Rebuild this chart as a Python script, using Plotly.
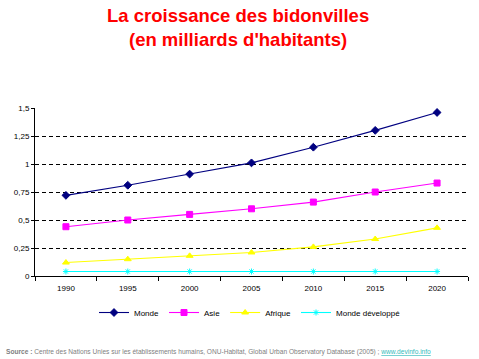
import plotly.graph_objects as go

years = ["1990", "1995", "2000", "2005", "2010", "2015", "2020"]
monde = [0.72, 0.81, 0.91, 1.01, 1.15, 1.30, 1.46]
asie = [0.44, 0.50, 0.55, 0.60, 0.66, 0.75, 0.83]
afrique = [0.12, 0.15, 0.18, 0.21, 0.26, 0.33, 0.43]
monde_dev = [0.04, 0.04, 0.04, 0.04, 0.04, 0.04, 0.04]
y_ticks = [0, 0.25, 0.5, 0.75, 1, 1.25, 1.5]
y_labels = ["0", "0,25", "0,5", "0,75", "1", "1,25", "1,5"]

fig = go.Figure()
series = [
    ("Monde", monde, "#000080", "diamond", 6),
    ("Asie", asie, "#FF00FF", "square", 6),
    ("Afrique", afrique, "#FFFF00", "triangle-up", 6),
    ("Monde développé", monde_dev, "#00FFFF", "asterisk-open", 5),
]
for name, vals, col, sym, sz in series:
    fig.add_trace(go.Scatter(
        x=years, y=vals, name=name, mode="lines+markers",
        line=dict(color=col, width=1.1),
        marker=dict(symbol=sym, size=sz, color=col, line=dict(color=col, width=1)),
    ))

PW, PH = 433, 168  # plot area size in px

fig.update_layout(
    width=479, height=359,
    margin=dict(l=35, r=11, t=108, b=83),
    paper_bgcolor="white", plot_bgcolor="white",
    font=dict(family="Liberation Sans, Arial, sans-serif", size=8, color="black"),
    xaxis=dict(
        type="category", range=[-0.5, 6.5], showgrid=False,
        showline=True, linecolor="black", linewidth=1,
        ticks="outside", tickson="boundaries", ticklen=4, tickcolor="black",
        tickfont=dict(size=8), ticklabelstandoff=4,
    ),
    yaxis=dict(
        range=[0, 1.5], tickvals=y_ticks, ticktext=y_labels,
        showgrid=True, gridcolor="black", griddash="4px,3px", gridwidth=1,
        showline=True, linecolor="black", linewidth=1,
        ticks="outside", ticklen=3, tickcolor="black", zeroline=False,
        tickfont=dict(size=8),
    ),
    legend=dict(orientation="h", x=(250 - 35) / PW, xanchor="center",
                y=-0.131, yanchor="top", font=dict(size=8), tracegroupgap=0),
    annotations=[
        dict(
            xref="paper", yref="paper", x=(238 - 35) / PW, y=(276 - 3) / PH,
            xanchor="center", yanchor="top", showarrow=False, align="center",
            text="<b>La croissance des bidonvilles<br>(en milliards d'habitants)</b>",
            font=dict(size=18.5, color="#FF0000", family="Liberation Sans, Arial, sans-serif"),
        ),
        dict(
            xref="paper", yref="paper", x=-31 / PW, y=-76 / PH, xanchor="left", yanchor="middle",
            showarrow=False, align="left",
            text="<b>Source :</b> Centre des Nations Unies sur les établissements humains, ONU-Habitat, Global Urban Observatory Database (2005) ; "
                 "<a href='http://www.devinfo.info'><span style='color:#33BBBB'><u>www.devinfo.info</u></span></a>",
            font=dict(size=6.6, color="#808080"),
        ),
    ],
)

fig.write_html("out.html", config={"displayModeBar": False},
               post_script="document.body.style.margin='0';")
